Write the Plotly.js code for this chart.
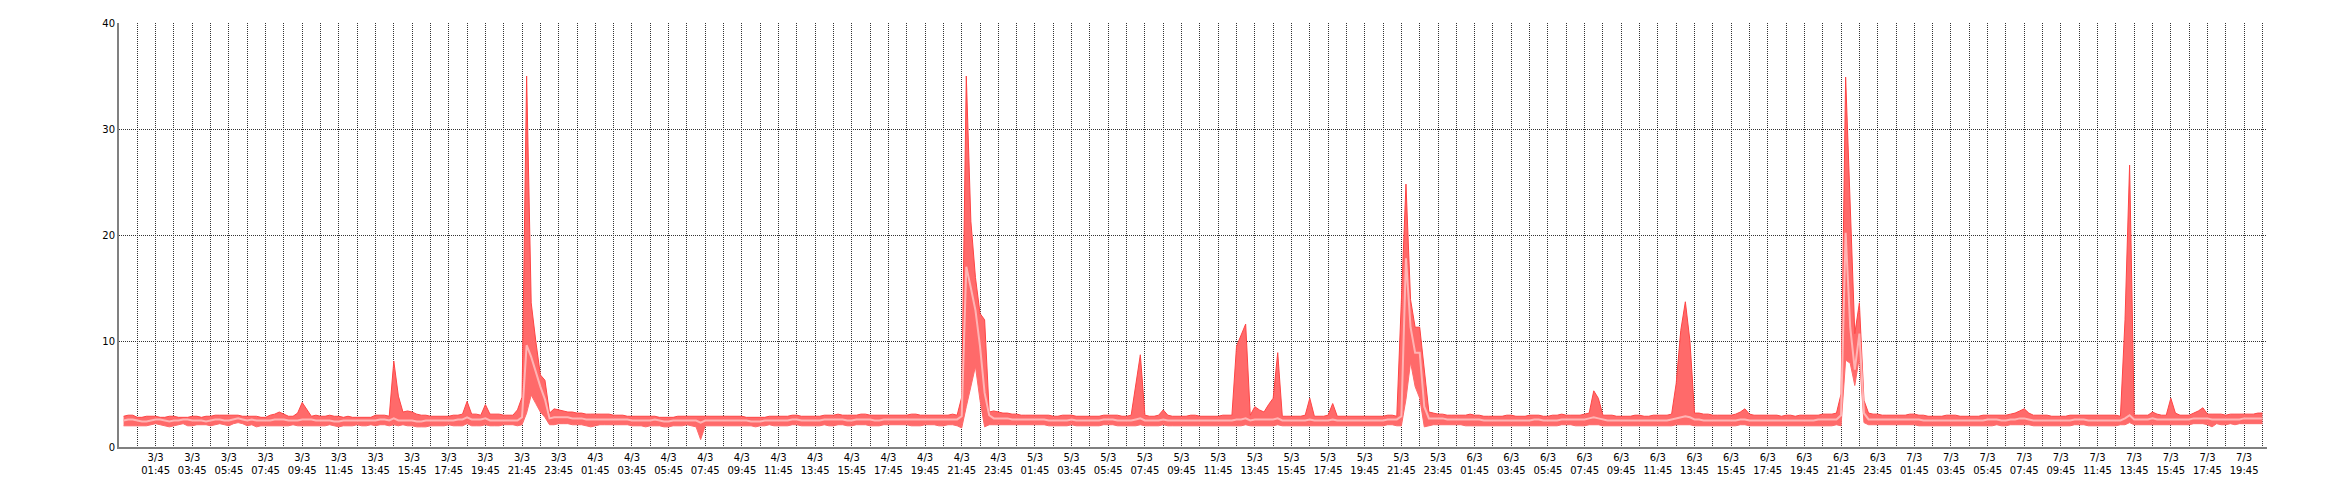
<!DOCTYPE html>
<html>
<head>
<meta charset="utf-8">
<script src="https://cdn.plot.ly/plotly-3.0.1.min.js"></script>
<style>html,body{margin:0;padding:0;background:#fff;}#chart{width:2340px;height:500px;}</style>
</head>
<body>
<div id="chart"></div>
<script>
// Series sampled every 15 minutes, starting 3/3 00:00 (468 samples, last 7/3 20:45)
const seriesStart = '2025-03-03T00:00:00Z';
const stepMinutes = 15;

const maxVals = [
// 3/3 00:00-03:45
2.9,3.0,3.0,2.8, 2.8,2.9,2.9,2.9, 2.8,2.8,2.9,2.9, 2.8,2.8,2.8,2.9,
// 3/3 04:00-07:45
2.9,2.8,2.9,2.9, 3.0,3.0,3.0,3.0, 3.0,3.0,2.9,2.9, 2.9,2.9,2.8,2.8,
// 3/3 08:00-11:45
3.0,3.1,3.3,3.1, 2.9,2.9,3.2,4.2, 3.5,2.9,3.0,2.9, 2.9,3.0,2.9,2.9,
// 3/3 12:00-15:45
2.8,2.9,2.8,2.8, 2.8,2.8,2.8,3.0, 3.0,3.0,2.9,8.1, 4.8,3.3,3.4,3.3,
// 3/3 16:00-19:45
3.1,3.0,3.0,2.9, 2.9,2.9,2.9,2.9, 3.0,3.0,3.1,4.3, 3.1,3.1,3.0,4.0,
// 3/3 20:00-23:45
3.1,3.1,3.1,3.0, 3.0,3.0,3.5,4.7, 35.0,13.6,10.0,6.8, 6.3,3.2,3.6,3.5,
// 4/3 00:00-03:45
3.4,3.3,3.3,3.2, 3.2,3.1,3.1,3.1, 3.1,3.1,3.1,3.0, 3.0,3.0,2.9,2.9,
// 4/3 04:00-07:45
2.9,2.9,2.9,2.9, 2.9,2.8,2.8,2.8, 2.8,2.9,2.9,2.9, 2.9,2.9,2.9,2.9,
// 4/3 08:00-11:45
2.9,2.9,2.9,2.9, 2.9,2.9,2.9,2.9, 2.8,2.8,2.8,2.8, 2.8,2.9,2.9,2.9,
// 4/3 12:00-15:45
2.9,2.9,3.0,3.0, 2.9,2.9,2.9,2.9, 2.9,3.0,3.0,3.0, 3.1,3.0,3.0,3.0,
// 4/3 16:00-19:45
3.0,3.1,3.1,3.0, 3.0,3.0,3.0,3.0, 3.0,3.0,3.0,3.0, 3.1,3.1,3.0,3.0,
// 4/3 20:00-23:45
3.0,3.0,3.0,3.0, 3.0,3.1,3.0,4.7, 35.0,21.3,16.0,12.6, 12.0,3.3,3.4,3.3,
// 5/3 00:00-03:45
3.2,3.2,3.1,3.1, 3.0,3.0,3.0,3.0, 3.0,3.0,3.0,2.9, 2.9,3.0,3.0,3.0,
// 5/3 04:00-07:45
2.9,2.9,2.9,2.9, 2.9,2.9,3.0,3.0, 3.0,3.0,2.9,2.9, 3.0,6.0,8.7,3.0,
// 5/3 08:00-11:45
2.9,2.9,3.0,3.5, 3.0,2.9,2.9,2.9, 2.9,3.0,3.0,2.9, 2.9,2.9,2.9,2.9,
// 5/3 12:00-15:45
3.0,3.0,3.0,9.5, 10.5,11.6,3.0,3.8, 3.5,3.3,4.0,4.6, 8.9,2.9,2.9,2.9,
// 5/3 16:00-19:45
2.9,2.9,3.0,4.6, 2.9,2.9,2.9,3.0, 4.1,2.9,2.9,2.9, 2.9,2.9,2.9,2.9,
// 5/3 20:00-23:45
2.9,2.9,2.9,2.9, 3.0,3.0,2.9,13.5, 24.8,13.9,11.3,11.3, 7.3,3.3,3.2,3.1,
// 6/3 00:00-03:45
3.1,3.0,3.0,3.0, 3.0,3.0,3.1,3.0, 3.0,2.9,2.9,2.9, 2.9,2.9,3.0,3.0,
// 6/3 04:00-07:45
2.9,2.9,2.9,3.0, 3.0,3.0,2.9,2.9, 3.0,3.0,3.1,3.0, 3.0,3.0,3.0,3.1,
// 6/3 08:00-11:45
3.2,5.3,4.6,3.0, 3.0,3.0,2.9,2.9, 2.9,2.9,3.0,3.0, 2.9,2.9,3.0,3.0,
// 6/3 12:00-15:45
3.0,3.0,3.1,6.0, 11.0,13.7,10.0,3.2, 3.2,3.1,3.1,3.0, 3.0,3.0,3.0,3.0,
// 6/3 16:00-19:45
3.1,3.3,3.6,3.1, 3.0,3.0,3.0,3.0, 3.0,3.0,2.9,3.0, 3.0,2.9,3.0,3.0,
// 6/3 20:00-23:45
3.0,3.0,3.0,3.1, 3.1,3.1,3.2,5.0, 34.9,22.0,10.7,13.6, 4.4,3.2,3.1,3.1,
// 7/3 00:00-03:45
3.0,3.0,3.0,3.0, 3.0,3.0,3.1,3.1, 3.0,3.0,2.9,2.9, 2.9,2.9,3.0,3.0,
// 7/3 04:00-07:45
3.0,2.9,2.9,2.9, 2.9,2.9,3.0,3.0, 3.0,3.0,3.0,3.0, 3.1,3.2,3.4,3.6,
// 7/3 08:00-11:45
3.2,3.0,3.0,3.0, 3.0,2.9,2.9,2.9, 2.9,3.0,3.0,3.0, 3.0,3.0,3.0,3.0,
// 7/3 12:00-15:45
3.0,3.0,3.0,3.0, 2.9,12.0,26.6,3.0, 3.0,3.0,3.0,3.3, 3.1,3.0,3.0,4.6,
// 7/3 16:00-20:45
3.2,3.0,3.0,3.0, 3.2,3.4,3.7,3.1, 3.1,3.1,3.1,3.0, 3.1,3.1,3.1,3.1, 3.1,3.1,3.2,3.2
];

const avgVals = [
// 3/3
2.5,2.6,2.6,2.5, 2.4,2.4,2.5,2.6, 2.6,2.5,2.4,2.5, 2.5,2.6,2.6,2.5,
2.5,2.5,2.4,2.5, 2.6,2.6,2.5,2.5, 2.6,2.7,2.6,2.5, 2.6,2.5,2.5,2.5,
2.5,2.6,2.6,2.6, 2.5,2.5,2.5,2.6, 2.6,2.6,2.5,2.5, 2.5,2.5,2.4,2.4,
2.5,2.5,2.5,2.5, 2.5,2.5,2.5,2.5, 2.6,2.6,2.5,2.7, 2.5,2.5,2.5,2.5,
2.4,2.4,2.5,2.5, 2.5,2.5,2.5,2.5, 2.5,2.6,2.6,2.8, 2.6,2.6,2.6,2.7,
2.5,2.5,2.5,2.5, 2.5,2.5,2.5,2.8, 9.6,8.5,7.0,5.7, 4.5,2.7,2.8,2.8,
// 4/3
2.8,2.8,2.7,2.7, 2.7,2.6,2.6,2.6, 2.6,2.6,2.6,2.6, 2.6,2.6,2.6,2.5,
2.5,2.5,2.5,2.5, 2.6,2.5,2.4,2.4, 2.5,2.5,2.5,2.5, 2.5,2.5,2.3,2.5,
2.5,2.5,2.5,2.5, 2.5,2.5,2.5,2.5, 2.5,2.4,2.4,2.4, 2.5,2.5,2.5,2.5,
2.5,2.5,2.6,2.6, 2.5,2.5,2.5,2.5, 2.5,2.6,2.6,2.6, 2.6,2.6,2.5,2.5,
2.6,2.6,2.6,2.6, 2.5,2.5,2.6,2.6, 2.6,2.6,2.6,2.6, 2.6,2.6,2.6,2.6,
2.6,2.6,2.6,2.6, 2.6,2.6,2.6,2.9, 17.0,15.0,12.9,9.5, 5.1,3.0,2.7,2.7,
// 5/3
2.7,2.7,2.6,2.6, 2.6,2.6,2.6,2.6, 2.6,2.6,2.5,2.5, 2.5,2.5,2.5,2.6,
2.5,2.5,2.5,2.5, 2.5,2.5,2.6,2.6, 2.6,2.5,2.5,2.5, 2.5,2.6,2.7,2.5,
2.5,2.5,2.5,2.6, 2.5,2.5,2.5,2.5, 2.5,2.5,2.5,2.5, 2.5,2.5,2.5,2.5,
2.5,2.5,2.5,2.6, 2.6,2.7,2.5,2.6, 2.6,2.6,2.6,2.6, 2.7,2.5,2.5,2.5,
2.5,2.5,2.5,2.6, 2.5,2.5,2.5,2.5, 2.6,2.5,2.5,2.5, 2.5,2.5,2.5,2.5,
2.5,2.5,2.5,2.5, 2.6,2.6,2.6,2.9, 17.8,11.3,8.9,8.9, 3.8,2.7,2.7,2.7,
// 6/3
2.7,2.6,2.6,2.6, 2.6,2.6,2.6,2.6, 2.6,2.5,2.5,2.5, 2.5,2.5,2.5,2.5,
2.5,2.5,2.5,2.5, 2.6,2.6,2.5,2.5, 2.5,2.5,2.6,2.6, 2.6,2.6,2.6,2.6,
2.7,2.8,2.7,2.6, 2.5,2.5,2.5,2.5, 2.5,2.5,2.5,2.5, 2.5,2.5,2.5,2.5,
2.5,2.5,2.6,2.7, 2.8,2.9,2.8,2.6, 2.6,2.5,2.5,2.5, 2.5,2.5,2.5,2.5,
2.5,2.6,2.6,2.5, 2.5,2.5,2.5,2.5, 2.5,2.5,2.5,2.5, 2.5,2.5,2.5,2.5,
2.5,2.5,2.6,2.6, 2.6,2.6,2.6,3.0, 20.2,11.3,7.3,10.7, 3.2,2.6,2.6,2.6,
// 7/3
2.6,2.6,2.6,2.6, 2.6,2.6,2.6,2.6, 2.6,2.5,2.5,2.5, 2.5,2.5,2.5,2.5,
2.5,2.5,2.5,2.5, 2.5,2.5,2.5,2.6, 2.6,2.6,2.5,2.5, 2.6,2.6,2.7,2.7,
2.6,2.5,2.5,2.5, 2.5,2.5,2.5,2.5, 2.5,2.5,2.6,2.6, 2.6,2.5,2.5,2.5,
2.5,2.5,2.5,2.5, 2.5,2.7,3.0,2.6, 2.6,2.6,2.6,2.7, 2.6,2.6,2.6,2.6,
2.6,2.6,2.6,2.6, 2.7,2.7,2.7,2.7, 2.6,2.6,2.6,2.6, 2.6,2.6,2.6,2.7, 2.7,2.7,2.7,2.7
];

const minVals = [
// 3/3
2.0,2.0,2.0,2.0, 2.0,2.0,2.1,2.2, 2.1,2.0,1.9,2.0, 2.1,2.2,2.0,2.0,
2.1,2.1,2.1,2.0, 2.1,2.2,2.1,2.0, 2.2,2.3,2.2,2.0, 2.1,1.9,2.0,2.0,
2.0,2.0,2.0,2.0, 2.0,2.1,2.0,2.0, 2.0,2.0,2.0,2.0, 2.0,2.1,2.0,1.9,
2.0,2.0,2.0,2.1, 2.0,2.0,2.1,2.0, 2.1,2.1,2.0,2.1, 2.0,2.1,2.0,2.0,
1.9,1.9,1.9,2.0, 2.0,2.0,2.0,2.1, 2.0,2.0,2.0,2.2, 2.0,2.0,2.0,2.1,
2.0,2.0,2.0,2.1, 2.1,2.1,2.0,2.1, 3.2,4.9,4.1,3.3, 2.8,2.1,2.1,2.2,
// 4/3
2.2,2.2,2.1,2.1, 2.1,2.0,1.9,2.0, 2.1,2.1,2.1,2.1, 2.1,2.1,2.1,2.0,
2.0,2.0,1.9,2.0, 2.0,2.0,1.9,1.9, 2.0,2.0,2.0,2.1, 2.0,1.9,0.7,2.0,
2.0,2.0,2.0,2.0, 2.0,2.0,2.0,2.0, 2.0,2.0,1.9,2.0, 2.0,2.1,2.0,2.0,
2.0,2.0,2.1,2.1, 2.0,2.0,2.0,2.0, 2.0,2.1,2.0,2.0, 2.1,2.1,2.0,2.0,
2.1,2.1,2.1,2.0, 2.0,2.0,2.1,2.1, 2.1,2.1,2.1,2.1, 2.0,2.0,2.0,2.1,
2.1,2.1,2.0,2.0, 2.1,2.1,2.0,1.8, 3.8,5.8,7.6,4.4, 1.9,2.1,2.1,2.1,
// 5/3
2.1,2.1,2.1,2.1, 2.1,2.1,2.1,2.1, 2.1,2.1,2.0,2.0, 2.0,2.0,2.0,2.1,
2.0,2.0,2.0,2.0, 2.0,2.0,2.1,2.1, 2.1,2.0,2.0,2.0, 2.0,2.0,2.1,2.0,
2.0,2.0,2.0,2.1, 2.0,2.0,2.0,2.0, 2.0,2.0,2.0,2.0, 2.0,2.0,2.0,2.0,
2.0,2.0,2.0,2.0, 2.0,2.1,2.0,2.0, 2.0,2.0,2.0,2.0, 2.1,2.0,2.0,2.0,
2.0,2.0,2.0,2.0, 2.0,2.0,2.0,2.0, 2.0,2.0,2.0,2.0, 2.0,2.0,2.0,2.0,
2.0,2.0,2.0,2.0, 2.1,2.1,2.0,2.0, 4.5,8.0,5.7,4.6, 1.9,2.0,2.1,2.1,
// 6/3
2.1,2.1,2.1,2.1, 2.1,2.0,2.0,2.0, 2.0,2.0,2.0,2.0, 2.0,2.0,2.0,2.0,
2.0,2.0,2.0,2.0, 2.0,2.0,2.0,2.0, 2.0,2.0,2.1,2.1, 2.1,2.0,2.0,2.0,
2.1,2.1,2.1,2.0, 2.0,2.0,2.0,2.0, 2.0,2.0,2.0,2.0, 2.0,2.0,2.0,2.0,
2.0,2.0,2.0,2.1, 2.1,2.1,2.1,2.0, 2.0,2.0,2.0,2.0, 2.0,2.0,2.0,2.0,
2.0,2.1,2.1,2.0, 2.0,2.0,2.0,2.0, 2.0,2.0,2.0,2.0, 2.0,2.0,2.0,2.0,
2.0,2.0,2.0,2.0, 2.0,2.0,2.1,2.0, 8.2,7.9,5.8,8.5, 2.3,2.1,2.1,2.1,
// 7/3
2.1,2.1,2.1,2.1, 2.1,2.1,2.1,2.1, 2.0,2.0,2.0,2.0, 2.0,2.0,2.0,2.0,
2.0,2.0,2.0,2.0, 2.0,2.0,2.0,2.0, 2.0,2.1,2.0,2.0, 2.1,2.1,2.1,2.1,
2.1,2.0,2.0,2.0, 2.0,2.0,2.0,2.0, 2.0,2.0,2.1,2.1, 2.1,2.0,2.0,2.0,
2.0,2.0,2.0,2.0, 2.1,2.1,2.3,2.1, 2.1,2.1,2.1,2.1, 2.1,2.1,2.1,2.1,
2.1,2.1,2.1,2.1, 2.2,2.2,2.2,2.1, 1.9,2.2,2.1,2.1, 2.2,2.1,2.2,2.2, 2.2,2.2,2.2,2.2
];

// axis settings
const xRange = ['2025-03-02 23:45', '2025-03-07 21:00'];
const firstLabel = '2025-03-03T01:45:00Z';   // first labelled tick
const lastLabel  = '2025-03-07T19:45:00Z';   // last labelled tick
const labelStepHours = 2;
const gridTick0 = '2025-03-03 00:45';
const tickFormat = '%-d/%-m<br>%H:%M';
const yTicks = [0, 10, 20, 30, 40];

const t0 = Date.parse(seriesStart);
function fmt(ms){ return new Date(ms).toISOString().slice(0,16).replace('T',' '); }
const times = maxVals.map((_, i) => fmt(t0 + i * stepMinutes * 60000));
const tickVals = [];
for (let t = Date.parse(firstLabel); t <= Date.parse(lastLabel); t += labelStepHours * 3600000) tickVals.push(fmt(t));

const traces = [
  {x: times, y: minVals, type: 'scatter', mode: 'lines',
   line: {color: '#ff6a6a', width: 1}, hoverinfo: 'skip'},
  {x: times, y: maxVals, type: 'scatter', mode: 'lines', fill: 'tonexty',
   fillcolor: '#ff6a6a', line: {color: '#ff4545', width: 1}, hoverinfo: 'skip'},
  {x: times, y: avgVals, type: 'scatter', mode: 'lines',
   line: {color: '#ffb4b4', width: 2}, hoverinfo: 'skip'}
];

const gridColor = '#333333';
const layout = {
  width: 2340, height: 500,
  margin: {l: 119, r: 73, t: 23, b: 53, pad: 0},
  paper_bgcolor: '#ffffff', plot_bgcolor: '#ffffff',
  showlegend: false,
  font: {family: 'DejaVu Sans', size: 10, color: '#000'},
  xaxis: {
    type: 'date', range: xRange,
    tickmode: 'array', tickvals: tickVals,
    tickformat: tickFormat, ticks: '',
    showgrid: true, gridcolor: gridColor, griddash: '1px,1px', gridwidth: 1,
    minor: {tickmode: 'linear', tick0: gridTick0, dtick: 3600000, showgrid: true, gridcolor: gridColor, griddash: '1px,1px', gridwidth: 1, ticks: ''},
    showline: true, linecolor: '#808080', linewidth: 2,
    zeroline: false, tickfont: {family: 'DejaVu Sans', size: 10, color: '#000'}
  },
  yaxis: {
    range: [0, 40], tickmode: 'array', tickvals: yTicks, ticktext: yTicks.map(String),
    ticks: '', showgrid: true, gridcolor: gridColor, griddash: '1px,1px', gridwidth: 1,
    showline: true, linecolor: '#808080', linewidth: 2, zeroline: false,
    tickfont: {family: 'DejaVu Sans', size: 10, color: '#000'}
  }
};

Plotly.newPlot('chart', traces, layout, {displayModeBar: false, staticPlot: true});
</script>
</body>
</html>
